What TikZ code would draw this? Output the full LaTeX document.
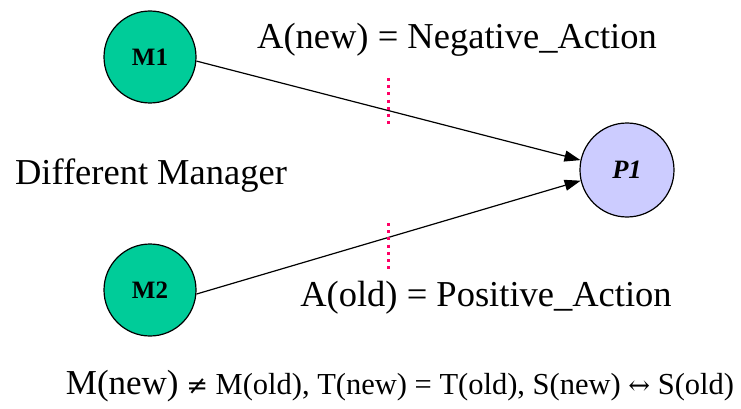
\documentclass[tikz,border=0pt]{standalone}
\usepackage{fontspec}
\setmainfont{Liberation Serif}
\newfontfamily\symbfont{DejaVu Serif}
\usetikzlibrary{arrows.meta}
\definecolor{mgreen}{HTML}{00CC99}
\definecolor{plav}{HTML}{CCCCFF}
\definecolor{dpink}{HTML}{FF0066}
\begin{document}
\begin{tikzpicture}[x=1pt,y=-1pt,
  mgr/.style={circle,draw=black,line width=1.2pt,fill=mgreen,minimum size=92pt,inner sep=0pt,font=\fontsize{25}{28}\selectfont\bfseries},
  prc/.style={circle,draw=black,line width=1.2pt,fill=plav,minimum size=94pt,inner sep=0pt,font=\fontsize{26.5}{28}\selectfont\bfseries\itshape},
  conn/.style={line width=1.2pt,-{Triangle[length=16pt,width=11pt]}},
  cut/.style={draw=dpink,line width=3pt,dash pattern=on 3pt off 4.2pt},
  lbl/.style={inner sep=0pt,font=\fontsize{36.5}{40}\selectfont}]
\useasboundingbox (0,0) rectangle (741,409);
\node[mgr] (m1) at (150,57) {M1};
\node[mgr] (m2) at (150,290) {M2};
\node[prc] (p1) at (627,170) {P1};
\draw[conn] (m1.-5) -- (p1.168);
\draw[conn] (m2.-5) -- (p1.-167);
\coordinate (c1a) at (388,78);
\coordinate (c1b) at (388,128);
\coordinate (c2a) at (388,223);
\coordinate (c2b) at (388,272);
\draw[cut] (c1a) -- (c1b);
\draw[cut] (c2a) -- (c2b);
\node[lbl] (an) at (457,40) {A(new) = Negative\_Action};
\node[lbl] (dm) at (151,176) {Different Manager};
\node[lbl] (ao) at (486,298) {A(old) = Positive\_Action};
\node[inner sep=0pt,font=\fontsize{30.5}{34}\selectfont] (eq) at (400,386) {{\fontsize{35}{38}\selectfont M(new)} {\symbfont\fontsize{26}{30}\selectfont ≠} M(old), T(new) = T(old), S(new) {\symbfont\fontsize{26}{30}\selectfont ↔} S(old)};
\end{tikzpicture}
\end{document}
